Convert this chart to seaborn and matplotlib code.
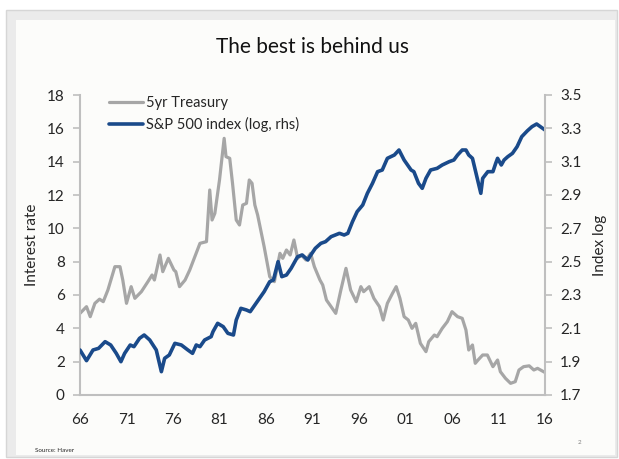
import numpy as np
import pandas as pd
import matplotlib
matplotlib.use('Agg')
import matplotlib.pyplot as plt
from matplotlib.patches import Rectangle
from matplotlib.lines import Line2D
import seaborn as sns

# ── Data ──────────────────────────────────────────────────────────────────────
treas_year = [1966.0, 1966.7, 1967.1, 1967.6, 1968.1, 1968.5, 1969.0, 1969.75, 1970.3, 1970.6,
              1971.0, 1971.5, 1971.9, 1972.6, 1973.3, 1973.75, 1974.0, 1974.6, 1974.9, 1975.5,
              1976.1, 1976.3, 1976.7, 1977.3, 1977.8, 1978.9, 1979.6, 1979.95, 1980.2, 1980.5,
              1981.0, 1981.5, 1981.7, 1982.1, 1982.4, 1982.8, 1983.15, 1983.5, 1983.9, 1984.2,
              1984.5, 1984.8, 1985.1, 1985.8, 1986.4, 1986.9, 1987.5, 1987.8, 1988.2, 1988.6,
              1989.0, 1989.4, 1989.8, 1990.3, 1990.8, 1991.2, 1991.8, 1992.1, 1992.5, 1993.0,
              1993.5, 1994.05, 1994.6, 1995.1, 1995.7, 1996.2, 1996.5, 1997.1, 1997.6, 1998.2,
              1998.6, 1999.05, 1999.6, 2000.0, 2000.4, 2000.85, 2001.3, 2001.7, 2002.1, 2002.6,
              2003.2, 2003.5, 2004.1, 2004.4, 2004.95, 2005.5, 2006.0, 2006.6, 2007.1, 2007.5,
              2007.8, 2008.2, 2008.5, 2008.8, 2009.3, 2009.8, 2010.4, 2010.9, 2011.2, 2011.75,
              2012.3, 2012.8, 2013.2, 2013.7, 2014.3, 2014.8, 2015.2, 2016.0]
treas_rate = [4.9, 5.3, 4.7, 5.5, 5.75, 5.6, 6.3, 7.7, 7.7, 6.9,
              5.5, 6.5, 5.8, 6.2, 6.8, 7.2, 6.9, 8.4, 7.4, 8.2,
              7.5, 7.4, 6.5, 6.9, 7.5, 9.1, 9.2, 12.3, 10.5, 10.9,
              12.9, 15.4, 14.3, 14.2, 12.7, 10.5, 10.2, 11.4, 11.5, 12.9,
              12.7, 11.4, 10.8, 8.9, 7.1, 6.8, 8.5, 8.2, 8.7, 8.4,
              9.3, 8.2, 8.4, 8.1, 8.5, 7.7, 6.9, 6.6, 5.7, 5.3,
              4.9, 6.3, 7.6, 6.3, 5.6, 6.5, 6.2, 6.5, 5.8, 5.3,
              4.5, 5.5, 6.1, 6.5, 5.8, 4.7, 4.5, 4.0, 4.3, 3.1,
              2.6, 3.2, 3.6, 3.5, 4.0, 4.4, 5.0, 4.7, 4.6, 3.9,
              2.7, 3.0, 1.9, 2.1, 2.4, 2.4, 1.7, 2.1, 1.4, 1.0,
              0.7, 0.8, 1.5, 1.7, 1.75, 1.5, 1.6, 1.35]

spx_year = [1966.0, 1966.7, 1967.4, 1968.0, 1968.7, 1969.3, 1969.9, 1970.4, 1970.8, 1971.4,
            1971.8, 1972.4, 1972.9, 1973.5, 1974.2, 1974.75, 1975.1, 1975.6, 1976.2, 1976.9,
            1977.6, 1978.1, 1978.5, 1978.9, 1979.4, 1980.1, 1980.3, 1980.8, 1981.4, 1981.9,
            1982.5, 1982.8, 1983.3, 1983.9, 1984.3, 1984.8, 1985.3, 1985.8, 1986.4, 1986.8,
            1987.3, 1987.7, 1988.2, 1988.7, 1989.4, 1989.9, 1990.5, 1990.7, 1991.3, 1991.9,
            1992.4, 1993.0, 1993.9, 1994.4, 1994.8, 1995.3, 1995.8, 1996.4, 1996.9, 1997.45,
            1998.0, 1998.5, 1999.05, 1999.8, 2000.3, 2000.85, 2001.6, 2001.9, 2002.4, 2002.8,
            2003.2, 2003.7, 2004.4, 2004.95, 2005.7, 2006.2, 2006.6, 2007.1, 2007.5, 2007.8,
            2008.2, 2008.5, 2009.1, 2009.3, 2009.85, 2010.4, 2010.7, 2010.9, 2011.3, 2011.6,
            2012.0, 2012.5, 2013.0, 2013.5, 2014.1, 2014.6, 2015.1, 2015.5, 2016.0]
spx_log = [1.97, 1.906, 1.97, 1.98, 2.02, 2.0, 1.95, 1.9, 1.95, 2.0,
           1.99, 2.04, 2.06, 2.03, 1.97, 1.84, 1.92, 1.94, 2.01, 2.0,
           1.97, 1.95, 2.0, 1.99, 2.03, 2.05, 2.08, 2.13, 2.11, 2.07,
           2.06, 2.15, 2.22, 2.21, 2.2, 2.24, 2.28, 2.32, 2.38, 2.39,
           2.5, 2.41, 2.42, 2.46, 2.53, 2.54, 2.51, 2.53, 2.58, 2.61,
           2.62, 2.65, 2.67, 2.66, 2.67, 2.74, 2.8, 2.84, 2.91, 2.97,
           3.04, 3.05, 3.12, 3.14, 3.17, 3.11, 3.05, 3.04, 2.97, 2.94,
           3.0, 3.05, 3.06, 3.08, 3.1, 3.11, 3.14, 3.17, 3.17, 3.14,
           3.12, 3.05, 2.91, 3.0, 3.04, 3.04, 3.09, 3.12, 3.08, 3.11,
           3.13, 3.15, 3.19, 3.25, 3.285, 3.31, 3.326, 3.31, 3.29]

x_ticks = [1966, 1971, 1976, 1981, 1986, 1991, 1996, 2001, 2006, 2011, 2016]
x_labels = ['66', '71', '76', '81', '86', '91', '96', '01', '06', '11', '16']
left_ticks = [0, 2, 4, 6, 8, 10, 12, 14, 16, 18]
right_ticks = [1.7, 1.9, 2.1, 2.3, 2.5, 2.7, 2.9, 3.1, 3.3, 3.5]

treas = pd.DataFrame({'year': treas_year, 'rate': treas_rate})
spx = pd.DataFrame({'year': spx_year, 'idx': spx_log})

# ── Style ─────────────────────────────────────────────────────────────────────
sns.set_style('white')
plt.rcParams['font.family'] = ['Lato', 'DejaVu Sans']
GREY = '#A6A6A6'
BLUE = '#1A4A8A'
SPINE = '#BFBFBF'
TXT = '#262626'

fig = plt.figure(figsize=(6.19, 4.59), dpi=100)
W, H = 619, 459
# slide-like frame
fig.patches.append(Rectangle((6 / W, 1 - 457 / H), 611 / W, 447 / H, transform=fig.transFigure,
                             facecolor='#EBEBEB', edgecolor='#D6D6D6', lw=1, zorder=-3))
fig.patches.append(Rectangle((16 / W, 1 - 455 / H), 599 / W, 435 / H, transform=fig.transFigure,
                             facecolor='#FCFCFA', edgecolor='none', zorder=-2))

ax = fig.add_axes([80 / W, 1 - 395 / H, 465 / W, 300 / H])
ax.patch.set_alpha(0)
ax2 = ax.twinx()

sns.lineplot(data=treas, x='year', y='rate', ax=ax, color=GREY, lw=2.3)
sns.lineplot(data=spx, x='year', y='idx', ax=ax2, color=BLUE, lw=2.6)

ax.set_xlim(1966, 2016)
ax.set_ylim(0, 18)
ax2.set_ylim(1.7, 3.5)
ax.set_xticks(x_ticks)
ax.set_xticklabels(x_labels)
ax.set_yticks(left_ticks)
ax.set_yticklabels([str(t) for t in left_ticks])
ax2.set_yticks(right_ticks)
ax2.set_yticklabels([f'{t:.1f}' for t in right_ticks])

for a in (ax, ax2):
    for s in ('left', 'right', 'bottom'):
        a.spines[s].set_color(SPINE)
        a.spines[s].set_linewidth(1.5)
    a.spines['top'].set_visible(False)
    a.tick_params(colors=SPINE, labelcolor=TXT, labelsize=11, length=5, width=1.2, direction='out')
ax.spines['right'].set_visible(False)
ax2.spines['left'].set_visible(False)
ax2.spines['bottom'].set_visible(False)
ax.tick_params(axis='x', pad=8)
ax.tick_params(axis='y', pad=6)
ax2.tick_params(axis='y', pad=6)

ax.set_xlabel('')
ax.set_ylabel('Interest rate', fontsize=11, color=TXT, labelpad=6)
ax2.set_ylabel('Index log', fontsize=11, color=TXT, labelpad=8)

handles = [Line2D([], [], color=GREY, lw=2.3), Line2D([], [], color=BLUE, lw=2.6)]
ax2.legend(handles, ['5yr Treasury', 'S&P 500 index (log, rhs)'], loc='upper left',
           bbox_to_anchor=(0.035, 1.04), frameon=False, fontsize=10.5, handlelength=2.3,
           handletextpad=0.2, labelspacing=0.5, labelcolor=TXT)

fig.text(313 / W, 1 - 47 / H, 'The best is behind us', ha='center', va='center',
         fontsize=15, color='#111111')
fig.text(35 / W, 1 - 451 / H, 'Source: Haver', ha='left', va='center', fontsize=4.5, color=TXT)
fig.text(580 / W, 1 - 443 / H, '2', ha='center', va='center', fontsize=4.5, color='#808080')

fig.savefig('out.png', dpi=100)
